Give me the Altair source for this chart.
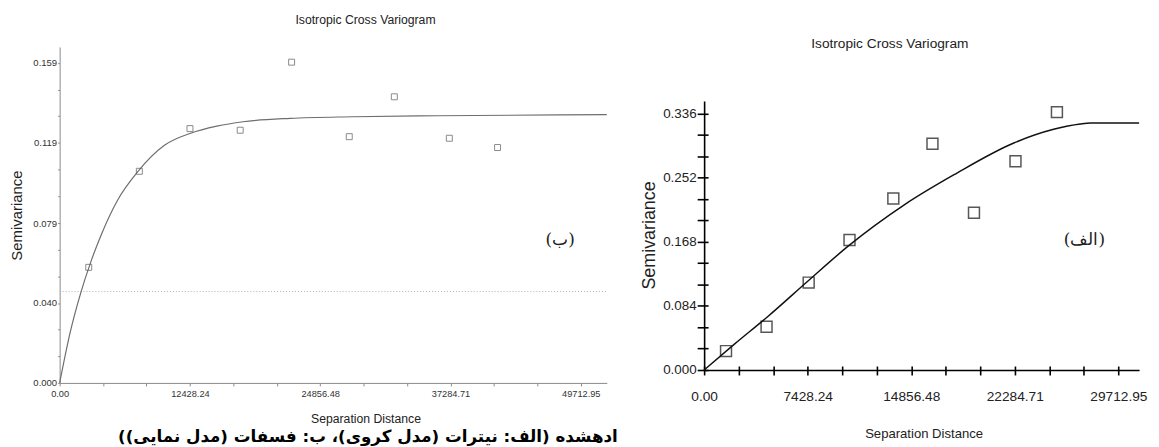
import json
import altair as alt
import pandas as pd

# ---------------- left panel (ب) : exponential model ----------------
left_pt_h = [2775, 7604, 12433, 17224, 22129, 27630, 31929, 37175, 41777]
left_pt_g = [0.0574, 0.1051, 0.1263, 0.1255, 0.1593, 0.1223, 0.1421, 0.1215, 0.1169]
left_curve_h = [0, 1000, 2000, 3000, 4000, 5500, 7500, 10000, 12500, 15000, 17500, 22000, 28000, 36000, 52198]
left_curve_g = [0, 0.0250, 0.0445, 0.0605, 0.0740, 0.0905, 0.1052, 0.1180, 0.1240, 0.1275, 0.1297, 0.1314, 0.1322, 0.1327, 0.1332]
left_dotted_g = [0.0454]
left_x_major = [0.0, 12428.24, 24856.48, 37284.71, 49712.95]
left_y_major = [0.0, 0.0397, 0.0794, 0.1192, 0.1589]
left_x_max = 52198.6
left_y_max = 0.16685

# ---------------- right panel (الف) : spherical model ----------------
right_pt_h = [1571, 4478, 7500, 10428, 13571, 16378, 19356, 22333, 25306]
right_pt_g = [0.0248, 0.0566, 0.1146, 0.1704, 0.2248, 0.2967, 0.2061, 0.2736, 0.3381]
right_curve_h = [0, 2214, 4593, 7450, 10307, 14356, 17928, 22212, 25070, 26975, 27700, 31198]
right_curve_g = [0, 0.0345, 0.0705, 0.1167, 0.1620, 0.2165, 0.2560, 0.2976, 0.3155, 0.3225, 0.3238, 0.3238]
right_x_major = [0.0, 7428.24, 14856.48, 22284.71, 29712.95]
right_y_major = [0.0, 0.084, 0.168, 0.252, 0.336]
right_x_max = 31198.6
right_y_max = 0.3528

title_text = "Isotropic Cross Variogram"
x_title = "Separation Distance"
y_title = "Semivariance"
label_left = "(ب)"
label_right = "(الف)"
caption = "ادهشده (الف: نیترات (مدل کروی)، ب: فسفات (مدل نمایی))"

REG = "Liberation Sans, Arial, sans-serif"

W, H = 1151, 439


def with_minor(majors, n=3):
    vals = []
    for a, b in zip(majors[:-1], majors[1:]):
        for k in range(n):
            vals.append(a + (b - a) * k / n)
    vals.append(majors[-1])
    return vals


def label_expr(majors, fmt):
    return f"indexof({json.dumps(majors)}, datum.value) >= 0 ? format(datum.value, '{fmt}') : ''"


# ---------- left panel ----------
lpts = pd.DataFrame({"h": left_pt_h, "g": left_pt_g})
lcur = pd.DataFrame({"h": left_curve_h, "g": left_curve_g})
ldot = pd.DataFrame({"h": [0.0], "h2": [left_x_max], "g": left_dotted_g})

LGRAY = "#8a8a8a"
lX = alt.X("h:Q", scale=alt.Scale(domain=[0, left_x_max], range=[52, 603], nice=False, zero=False),
           axis=alt.Axis(orient="bottom", offset=-63, values=with_minor(left_x_major),
                         labelExpr=label_expr(left_x_major, ".2f"), labelOverlap=False, labelFlush=False,
                         grid=False, tickSize=3, labelPadding=4, domainColor=LGRAY, tickColor=LGRAY,
                         domainWidth=1, tickWidth=1, labelColor="#333", labelFont=REG, labelFontSize=9.3,
                         title=x_title, titleFont=REG, titleFontSize=12.3, titleFontWeight="normal",
                         titleColor="#222", titleX=360, titleY=36, titleBaseline="middle", titleAlign="center"))
lY = alt.Y("g:Q", scale=alt.Scale(domain=[0, left_y_max], range=[376, 37.7], nice=False, zero=False),
           axis=alt.Axis(orient="left", offset=-52, values=with_minor(left_y_major),
                         labelExpr=label_expr(left_y_major, ".3f"), labelOverlap=False, labelFlush=False,
                         grid=False, tickSize=2, labelPadding=1, domainColor=LGRAY, tickColor=LGRAY,
                         domainWidth=1, tickWidth=1, labelColor="#333", labelFont=REG, labelFontSize=9.6,
                         title=y_title, titleFont=REG, titleFontSize=15, titleFontWeight="normal",
                         titleColor="#222", titleX=-43, titleY=207, titleBaseline="middle", titleAlign="center",
                         titleAngle=270))

left_rule = alt.Chart(ldot).mark_rule(color="#b0b0b0", strokeDash=[1, 2], strokeWidth=1).encode(
    x=lX, x2="h2:Q", y=lY)
left_line = alt.Chart(lcur).mark_line(color="#6e6e6e", strokeWidth=1.2, interpolate="monotone").encode(x=lX, y=lY)
left_pts = alt.Chart(lpts).mark_square(filled=False, color="#5a5a5a", size=36, strokeWidth=1).encode(x=lX, y=lY)
left = alt.layer(left_rule, left_line, left_pts)

# ---------- right panel ----------
rpts = pd.DataFrame({"h": right_pt_h, "g": right_pt_g})
rcur = pd.DataFrame({"h": right_curve_h, "g": right_curve_g})

rXscale = alt.Scale(domain=[0, right_x_max], range=[701, 1139], nice=False, zero=False)
rYscale = alt.Scale(domain=[0, right_y_max], range=[363, 92], nice=False, zero=False)

rX = alt.X("h:Q", scale=rXscale,
           axis=alt.Axis(orient="bottom", offset=-76, values=with_minor(right_x_major),
                         labelExpr=label_expr(right_x_major, ".2f"), labelOverlap=False, labelFlush=False,
                         grid=False, tickSize=5, labelPadding=15, domainColor="#000", tickColor="#000",
                         domainWidth=1.6, tickWidth=1.6, labelColor="#222", labelFont=REG, labelFontSize=13.8,
                         title=x_title, titleFont=REG, titleFontSize=13.2, titleFontWeight="normal",
                         titleColor="#222", titleX=922, titleY=64, titleBaseline="middle", titleAlign="center"))
rY = alt.Y("g:Q", scale=rYscale,
           axis=alt.Axis(orient="left", offset=-701, values=with_minor(right_y_major),
                         labelExpr=label_expr(right_y_major, ".3f"), labelOverlap=False, labelFlush=False,
                         grid=False, tickSize=7, labelPadding=1, domainColor="#000", tickColor="#000",
                         domainWidth=1.6, tickWidth=1.6, labelColor="#222", labelFont=REG, labelFontSize=13.5,
                         title=y_title, titleFont=REG, titleFontSize=18, titleFontWeight="normal",
                         titleColor="#222", titleX=-55, titleY=227, titleBaseline="middle", titleAlign="center",
                         titleAngle=270))

right_line = alt.Chart(rcur).mark_line(color="#111", strokeWidth=1.5, interpolate="monotone").encode(x=rX, y=rY)
right_pts = alt.Chart(rpts).mark_square(filled=False, color="#111", size=121, strokeWidth=1.5).encode(x=rX, y=rY)
right = alt.layer(right_line, right_pts)

# inner half of the crossing ticks of the right panel (second pair of axes on the same lines)
rX_in = alt.X("h:Q", scale=rXscale,
              axis=alt.Axis(orient="top", offset=-363, values=with_minor(right_x_major), labels=False,
                            domain=False, grid=False, tickSize=4, tickColor="#000", tickWidth=1.6, title=None))
rY_in = alt.Y("g:Q", scale=rYscale,
              axis=alt.Axis(orient="right", offset=701 - W, values=with_minor(right_y_major), labels=False,
                            domain=False, grid=False, tickSize=4, tickColor="#000", tickWidth=1.6, title=None))
right_inner = alt.Chart(rpts).mark_point(opacity=0).encode(x=rX_in, y=rY_in)

# ---------- text annotations ----------
one = pd.DataFrame({"a": [0]})


def txt(text, x, y, font, size, weight="normal", align="center", color="#222"):
    return alt.Chart(one).mark_text(text=text, font=font, fontSize=size, fontWeight=weight,
                                    align=align, baseline="middle", color=color).encode(
        x=alt.value(x), y=alt.value(y))


texts = alt.layer(
    txt(title_text, 360, 11, REG, 12.3),
    txt(title_text, 888, 35, REG, 13.8),
    txt(label_left, 556, 232, "DejaVu Serif, Liberation Serif, serif", 17),
    txt(label_right, 1084, 232, "DejaVu Serif, Liberation Serif, serif", 17),
    txt(caption, 614, 430, "DejaVu Sans, sans-serif", 16.8, weight="bold", align="right", color="#000"),
)

chart = alt.layer(left, right, right_inner, texts).resolve_scale(x="independent", y="independent").properties(
    width=W, height=H, autosize=alt.AutoSizeParams(type="none"), padding=0,
    background="white",
).configure_view(strokeWidth=0)

chart.save("out.html", embed_options={"renderer": "svg", "actions": False})
